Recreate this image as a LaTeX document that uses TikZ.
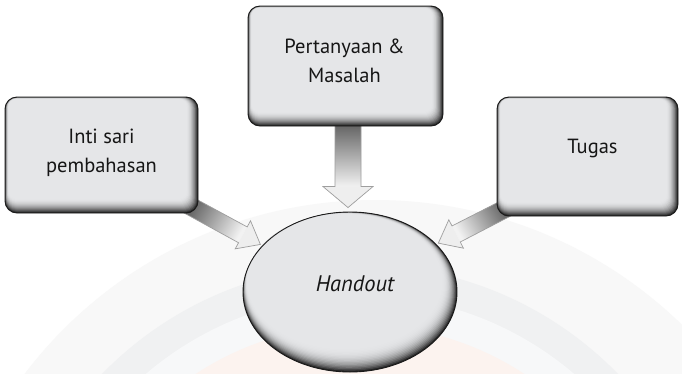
\documentclass[tikz,border=0pt]{standalone}
\usepackage{fontspec}
\setmainfont{PT Sans}
\usetikzlibrary{calc,shapes.geometric}

\definecolor{face}{HTML}{E5E6E8}
\definecolor{rim}{HTML}{262626}
\definecolor{edge}{HTML}{1A1A1A}
\definecolor{ink}{HTML}{161616}
\definecolor{arrdark}{HTML}{5A5A5A}
\definecolor{arrlight}{HTML}{F2F2F2}
\definecolor{arrhead}{HTML}{EEEEEE}
\definecolor{arrline}{HTML}{9E9E9E}
\definecolor{wmA}{HTML}{F8F8F8}
\definecolor{wmB}{HTML}{F0F1F2}
\definecolor{wmC}{HTML}{F7F8F9}
\definecolor{wmD}{HTML}{FCF3EF}

\pgfdeclarelayer{back}
\pgfdeclarelayer{mid}
\pgfsetlayers{back,mid,main}

% rounded box with a dark bevel on its lower and right sides
\newcommand\bevelrect[4]{%
  \foreach \k in {0,...,14}{%
    \pgfmathsetmacro\xa{#1+0.25*\k}\pgfmathsetmacro\ya{#2+0.15*\k}%
    \pgfmathsetmacro\xb{#3-0.8*\k}\pgfmathsetmacro\yb{#4-1.0*\k}%
    \pgfmathsetmacro\rr{12-0.3*\k}%
    \pgfmathsetmacro\p{100*(1-(1-\k/14)^2)}%
    \fill[face!\p!rim, rounded corners=\rr pt] (\xa,\ya) rectangle (\xb,\yb);
  }}

% ellipse with the same kind of bevel
\newcommand\bevelellipse[4]{%
  \foreach \k in {0,...,18}{%
    \pgfmathsetmacro\xa{#1+0.25*\k}\pgfmathsetmacro\ya{#2+0.12*\k}%
    \pgfmathsetmacro\xb{#3-0.9*\k}\pgfmathsetmacro\yb{#4-1.4*\k}%
    \pgfmathsetmacro\cx{(\xa+\xb)/2}\pgfmathsetmacro\cy{(\ya+\yb)/2}%
    \pgfmathsetmacro\rx{(\xb-\xa)/2}\pgfmathsetmacro\ry{(\yb-\ya)/2}%
    \pgfmathsetmacro\p{100*(1-(1-\k/18)^3)}%
    \fill[face!\p!rim] (\cx,\cy) ellipse [x radius=\rx pt, y radius=\ry pt];
  }}

% block arrow: start, tip, shaft half width, head half width, head length, shading angle
\newcommand\blockarrow[6]{%
  \coordinate (hb) at ($(#2)!#5pt!(#1)$);
  \shade[top color=arrdark, bottom color=arrlight, shading angle=#6]
    ($(#1)!#3pt!90:(#2)$) -- ($(hb)!#3pt!90:(#2)$) -- ($(hb)!#3pt!-90:(#2)$)
    -- ($(#1)!#3pt!-90:(#2)$) -- cycle;
  \fill[arrhead] ($(hb)!#4pt!90:(#2)$) -- (#2) -- ($(hb)!#4pt!-90:(#2)$) -- cycle;
  \draw[arrline, line width=0.7pt, line join=miter]
    ($(#1)!#3pt!90:(#2)$) -- ($(hb)!#3pt!90:(#2)$) -- ($(hb)!#4pt!90:(#2)$)
    -- (#2) -- ($(hb)!#4pt!-90:(#2)$) -- ($(hb)!#3pt!-90:(#2)$) -- ($(#1)!#3pt!-90:(#2)$);
}

\begin{document}
\begin{tikzpicture}[x=1pt,y=-1pt,
  boxline/.style={draw=edge, line width=0.9pt, rounded corners=12pt, inner sep=0pt},
  caption/.style={font=\fontsize{20.5}{29.5}\selectfont, text=ink, align=center, inner sep=0pt}]
\useasboundingbox (0,0) rectangle (682,373);

\begin{pgfonlayer}{back}
  % faint emblem rings behind the diagram
  \begin{scope}
    \clip (0,0) rectangle (682,373);
    \fill[white] (0,0) rectangle (682,373);
    \fill[wmA] (375,640) circle [radius=440pt];
    \fill[wmB] (360,625) circle [radius=360pt];
    \fill[wmC] (360,625) circle [radius=330pt];
    \fill[wmD] (360,625) circle [radius=300pt];
  \end{scope}
  \bevelellipse{243}{212}{457}{372}
\end{pgfonlayer}

% central ellipse
\node[draw=edge, ellipse, line width=0.9pt, inner sep=0pt,
      minimum width=214pt, minimum height=160pt] (ell) at (350,292) {};
\node[caption, font=\fontsize{22.5}{29}\selectfont\itshape] (htext) at ($(ell.center)+(5,-8)$) {Handout};

% source boxes
\bevelrect{5}{97}{198}{213}
\node[boxline, minimum width=193pt, minimum height=116pt] (lbox) at (101.5,155) {};
\node[caption] (ltext) at ($(lbox.center)+(0,-2)$) {Inti sari\\pembahasan};

\bevelrect{248}{6}{443}{126}
\node[boxline, minimum width=195pt, minimum height=120pt] (tbox) at (345.5,66) {};
\node[caption] (ttext) at ($(tbox.center)+(-1,-5)$) {Pertanyaan \&\\Masalah};

\bevelrect{497}{97}{678}{216}
\node[boxline, minimum width=181pt, minimum height=119pt] (rbox) at (587.5,156.5) {};
\node[caption] (rtext) at ($(rbox.center)+(5,-8)$) {Tugas};

% connecting block arrows
\coordinate (ls) at ($(lbox.south east)+(-13,-10)$);
\coordinate (lt) at ($(ell.152)+(-2,-1)$);
\coordinate (ts) at ($(tbox.south)+(2.5,-6)$);
\coordinate (tt) at ($(ell.north)+(-2,-4)$);
\coordinate (rs) at ($(rbox.south west)+(13,-10)$);
\coordinate (rt) at ($(ell.29)+(2,-1)$);

\begin{pgfonlayer}{mid}
  \blockarrow{ls}{lt}{9}{16}{20}{60}
  \blockarrow{ts}{tt}{13}{25}{21}{0}
  \blockarrow{rs}{rt}{9}{16}{20}{-60}
\end{pgfonlayer}
\end{tikzpicture}
\end{document}
